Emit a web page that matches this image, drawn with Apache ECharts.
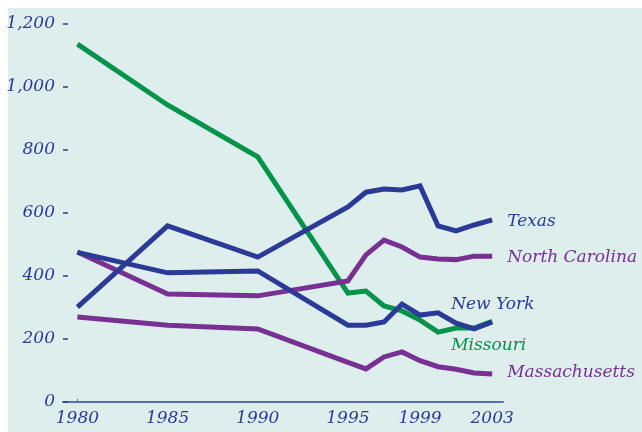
<!DOCTYPE html>
<html>
<head>
<meta charset="utf-8">
<script src="https://cdn.jsdelivr.net/npm/echarts@6/dist/echarts.min.js"></script>
<style>
  html, body { margin: 0; padding: 0; background: #fff; }
  #chart { width: 642px; height: 432px; }
</style>
</head>
<body>
<div id="chart"></div>
<script>
// years shared by every state
const years = [1980, 1985, 1990, 1995, 1996, 1997, 1998, 1999, 2000, 2001, 2002, 2003];
const yearLabels = [1980, 1985, 1990, 1995, 1999, 2003];
const yTicks = [0, 200, 400, 600, 800, 1000, 1200];

const texas = [301, 559, 460, 619, 666, 676, 673, 686, 559, 543, 562, 578];
const northCarolina = [476, 343, 337, 384, 467, 514, 492, 460, 454, 452, 463, 463];
const newYork = [475, 410, 416, 244, 244, 254, 311, 276, 283, 250, 232, 254];
const missouri = [1136, 943, 778, 346, 352, 305, 289, 260, 222, 235, 235, 256];
const massachusetts = [270, 244, 232, 126, 105, 143, 159, 131, 112, 104, 92, 89];

const BLUE = "#2b3a97";
const GREEN = "#00944a";
const PURPLE = "#783192";
const FONT = "DejaVu Serif";

function pairs(values) {
  return years.map((y, i) => [y, values[i]]);
}

function lineSeries(name, values, color, offset) {
  return {
    name: name,
    type: "line",
    data: pairs(values),
    symbol: "none",
    lineStyle: { color: color, width: 5, cap: "butt", join: "miter" },
    itemStyle: { color: color },
    endLabel: {
      show: true,
      formatter: name,
      color: color,
      fontFamily: FONT,
      fontStyle: "italic",
      fontSize: 17,
      distance: 15,
      offset: offset,
    },
  };
}

const chart = echarts.init(document.getElementById("chart"));
chart.setOption({
  animation: false,
  backgroundColor: "transparent",
  graphic: [
    {
      type: "rect",
      z: -10,
      shape: { x: 8, y: 8, width: 634, height: 424 },
      style: { fill: "#ddeeed" },
    },
  ],
  grid: { left: 63, right: 139, top: 24, bottom: 30 },
  xAxis: {
    type: "value",
    min: 1979.2,
    max: 2003.6,
    splitLine: { show: false },
    axisLine: { show: true, lineStyle: { color: "#5a6db0", width: 2 } },
    axisTick: { show: true, customValues: [1980], length: 3, inside: true, lineStyle: { color: "#5a6db0" } },
    axisLabel: {
      customValues: yearLabels,
      color: BLUE,
      fontFamily: FONT,
      fontStyle: "italic",
      fontSize: 17,
      margin: 8,
      formatter: (v) => String(v),
    },
  },
  yAxis: {
    type: "value",
    min: 0,
    max: 1200,
    interval: 200,
    splitLine: { show: false },
    axisLine: { show: false },
    axisTick: { show: true, inside: true, length: 5, lineStyle: { color: BLUE, width: 1.5 } },
    axisLabel: {
      customValues: yTicks,
      color: BLUE,
      fontFamily: FONT,
      fontStyle: "italic",
      fontSize: 17,
      margin: 8,
      formatter: (v) => v.toLocaleString("en-US"),
    },
  },
  series: [
    lineSeries("Missouri", missouri, GREEN, [-56, 24]),
    lineSeries("Massachusetts", massachusetts, PURPLE, [0, -1]),
    lineSeries("North Carolina", northCarolina, PURPLE, [0, 1]),
    lineSeries("New York", newYork, BLUE, [-56, -17]),
    lineSeries("Texas", texas, BLUE, [0, 2]),
  ],
});
</script>
</body>
</html>
